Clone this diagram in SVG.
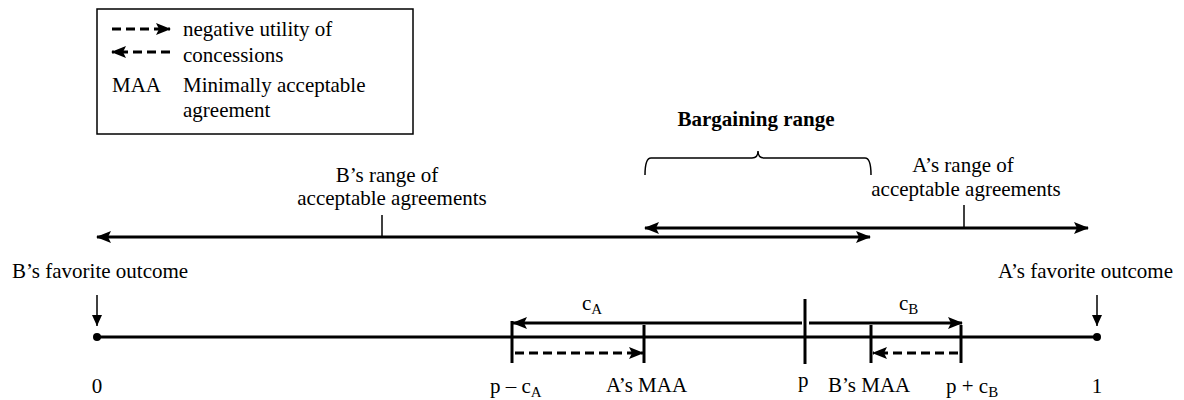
<svg xmlns="http://www.w3.org/2000/svg" width="1184" height="400" viewBox="0 0 1184 400" font-family="'Liberation Serif', 'DejaVu Serif', serif">
<style>
text{font-family:'Liberation Serif','DejaVu Serif',serif;font-size:21px;fill:#000}
.b{font-weight:bold}
.sub{font-size:15px}
.thick{stroke:#000;stroke-width:3;fill:none}
.thin{stroke:#000;stroke-width:1.5;fill:none}
.dash{stroke:#000;stroke-width:3;fill:none;stroke-dasharray:9 5}
</style>
<defs>
<marker id="ah" markerUnits="userSpaceOnUse" markerWidth="16" markerHeight="12" refX="14" refY="6" orient="auto-start-reverse">
<path d="M0,0 L15,6 L0,12 L3,6 Z" fill="#000"/>
</marker>
<marker id="ahs" markerUnits="userSpaceOnUse" markerWidth="12" markerHeight="10" refX="11" refY="5" orient="auto-start-reverse">
<path d="M0,0 L11,5 L0,10 Z" fill="#000"/>
</marker>
</defs>
<rect width="1184" height="400" fill="#fff"/>

<g id="legend">
<rect x="97" y="9" width="316" height="125" fill="#fff" stroke="#000" stroke-width="1.5"/>
<line x1="112" y1="29" x2="170" y2="29" class="dash" marker-end="url(#ah)"/>
<line x1="170" y1="52" x2="112" y2="52" class="dash" marker-end="url(#ah)"/>
<text x="183" y="36">negative utility of</text>
<text x="183" y="62">concessions</text>
<text x="112" y="92">MAA</text>
<text x="183" y="92">Minimally acceptable</text>
<text x="183" y="117">agreement</text>
</g>

<g id="bargaining-range">
<text class="b" x="756" y="126" text-anchor="middle">Bargaining range</text>
<path class="thin" d="M645,175 Q645,158 651,158 L752,158 Q758,158 758,151 Q758,158 764,158 L865,158 Q871,158 871,175"/>
</g>

<g id="a-range">
<text x="963" y="172" text-anchor="middle">A’s range of</text>
<text x="966" y="196" text-anchor="middle">acceptable agreements</text>
</g>

<g id="b-range">
<text x="387" y="182" text-anchor="middle">B’s range of</text>
<text x="392" y="205" text-anchor="middle">acceptable agreements</text>
</g>

<g id="b-favorite">
<text x="12" y="278">B’s favorite outcome</text>
<circle cx="97" cy="337" r="4" fill="#000"/>
<text x="97" y="393" text-anchor="middle">0</text>
</g>

<g id="a-favorite">
<text x="1173" y="278" text-anchor="end">A’s favorite outcome</text>
<circle cx="1097" cy="337" r="4" fill="#000"/>
<text x="1097" y="393" text-anchor="middle">1</text>
</g>

<g id="p-minus-cA">
<text x="490" y="393">p – c<tspan class="sub" dy="4">A</tspan></text>
</g>
<g id="a-maa">
<text x="606" y="392">A’s MAA</text>
</g>
<g id="p">
<text x="798" y="387">p</text>
</g>
<g id="b-maa">
<text x="828" y="392">B’s MAA</text>
</g>
<g id="p-plus-cB">
<text x="946" y="393">p + c<tspan class="sub" dy="4">B</tspan></text>
</g>
<g id="cA-label">
<text x="582" y="310">c<tspan class="sub" dy="4">A</tspan></text>
</g>
<g id="cB-label">
<text x="899" y="310">c<tspan class="sub" dy="4">B</tspan></text>
</g>

<g id="connectors">
<line class="thick" x1="97" y1="337" x2="1097" y2="337"/>
<line class="thin" x1="97" y1="295" x2="97" y2="326" marker-end="url(#ahs)"/>
<line class="thin" x1="1097" y1="295" x2="1097" y2="326" marker-end="url(#ahs)"/>
<line class="thick" x1="645" y1="228" x2="1088" y2="228" marker-start="url(#ah)" marker-end="url(#ah)"/>
<line class="thin" x1="964" y1="205" x2="964" y2="228"/>
<line class="thick" x1="97" y1="237" x2="870" y2="237" marker-start="url(#ah)" marker-end="url(#ah)"/>
<line class="thin" x1="382" y1="215" x2="382" y2="237"/>
<line class="thick" x1="512" y1="321" x2="512" y2="363"/>
<line class="thick" x1="644" y1="325" x2="644" y2="363"/>
<line class="thick" x1="805" y1="299" x2="805" y2="364"/>
<line class="thick" x1="871" y1="325" x2="871" y2="363"/>
<line class="thick" x1="961" y1="325" x2="961" y2="363"/>
<line class="thick" x1="802" y1="323" x2="513" y2="323" marker-end="url(#ah)"/>
<line class="thick" x1="809" y1="323" x2="962" y2="323" marker-end="url(#ah)"/>
<line class="dash" x1="515" y1="353" x2="643" y2="353" marker-end="url(#ah)"/>
<line class="dash" x1="958" y1="353" x2="873" y2="353" marker-end="url(#ah)"/>
</g>
</svg>
